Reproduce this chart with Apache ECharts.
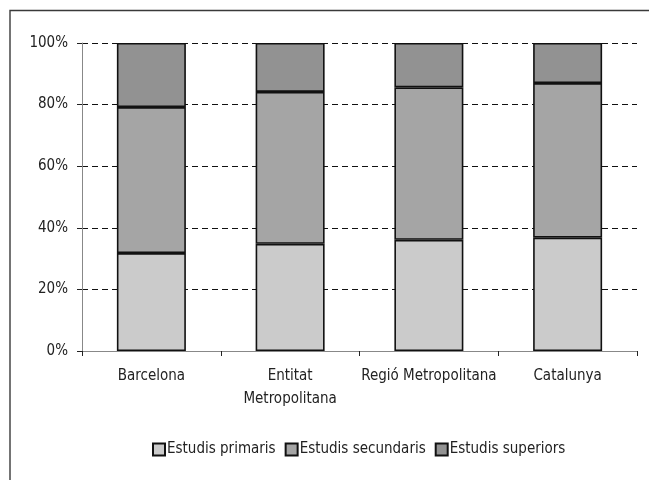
<!DOCTYPE html>
<html>
<head>
<meta charset="utf-8">
<script src="https://cdn.jsdelivr.net/npm/echarts@6/dist/echarts.min.js"></script>
<style>
  html, body { margin: 0; padding: 0; background: #fff; }
  #chart { width: 649px; height: 480px; }
</style>
</head>
<body>
<div id="chart"></div>
<script>
var categories = ['Barcelona', 'Entitat\nMetropolitana', 'Regió Metropolitana', 'Catalunya']
var seriesNames = ['Estudis primaris', 'Estudis secundaris', 'Estudis superiors']
var primaris = [31.8, 34.8, 36.1, 36.8]
var secundaris = [47.4, 49.3, 49.5, 50.2]
var superiors = [20.8, 15.9, 14.4, 13.0]
var yTicks = [0, 20, 40, 60, 80, 100]

var font = '"Liberation Sans Narrow", "DejaVu Sans Condensed", "Noto Sans", sans-serif'
var colors = ['#cbcbcb', '#a5a5a5', '#929292']

var myChart = echarts.init(document.getElementById('chart'), null, { renderer: 'canvas' })

function makeSeries(name, data, idx) {
  return {
    name: name,
    type: 'bar',
    stack: 'total',
    barWidth: 69,
    data: data,
    itemStyle: {
      color: colors[idx],
      borderColor: '#111',
      borderWidth: 1.6
    }
  }
}

var option = {
  animation: false,
  textStyle: { fontFamily: font },
  graphic: [{
    type: 'rect',
    shape: { x: 10, y: 10.5, width: 700, height: 600 },
    style: { fill: 'none', stroke: '#3a3a3a', lineWidth: 1.4 },
    silent: true
  }],
  grid: { left: 82, right: 12, top: 43, bottom: 129 },
  legend: {
    data: seriesNames,
    icon: 'rect',
    bottom: 18,
    left: 147,
    itemWidth: 12,
    itemHeight: 12,
    itemGap: 9,
    textStyle: { fontFamily: font, fontSize: 15, color: '#222', padding: [0, 0, 0, -3] }
  },
  xAxis: {
    type: 'category',
    data: categories,
    axisLine: { lineStyle: { color: '#888', width: 1 } },
    axisTick: { show: true, length: 5, lineStyle: { color: '#222' } },
    axisLabel: {
      fontFamily: font,
      fontSize: 15,
      color: '#222',
      margin: 14,
      lineHeight: 23,
      interval: 0
    }
  },
  yAxis: {
    type: 'value',
    min: yTicks[0],
    max: yTicks[yTicks.length - 1],
    interval: 20,
    axisLine: { show: true, lineStyle: { color: '#888', width: 1 } },
    axisTick: { show: true, length: 5, lineStyle: { color: '#222' } },
    axisLabel: {
      formatter: '{value}%',
      fontFamily: font,
      fontSize: 15,
      color: '#222',
      margin: 14
    },
    splitLine: {
      show: true,
      lineStyle: { color: '#111', type: [6, 4], width: 1 }
    }
  },
  series: [
    makeSeries(seriesNames[0], primaris, 0),
    makeSeries(seriesNames[1], secundaris, 1),
    makeSeries(seriesNames[2], superiors, 2)
  ]
}

option && myChart.setOption(option)
</script>
</body>
</html>
